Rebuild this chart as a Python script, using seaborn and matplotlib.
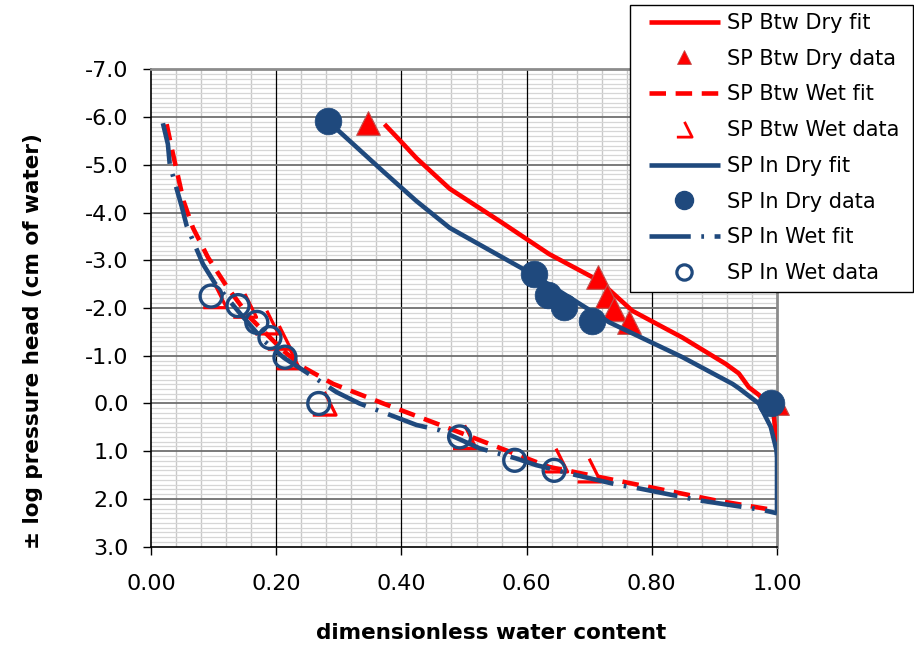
import numpy as np
import pandas as pd
import matplotlib
matplotlib.use("Agg")
import matplotlib.pyplot as plt
from matplotlib.path import Path
from matplotlib.lines import Line2D
from matplotlib.patches import Rectangle
from matplotlib.ticker import MultipleLocator, FixedLocator, FormatStrFormatter
import seaborn as sns

# ---- fitted retention curves ----
btw_dry_fit_x = [0.373, 0.397, 0.424, 0.477, 0.557, 0.636, 0.716, 0.769, 0.849, 0.918, 0.939, 0.955, 0.971, 0.987, 0.995, 1.0]
btw_dry_fit_y = [-5.85, -5.52, -5.14, -4.50, -3.82, -3.13, -2.57, -1.94, -1.38, -0.83, -0.63, -0.34, -0.18, 0.05, 0.26, 0.97]

in_dry_fit_x = [0.283, 0.371, 0.424, 0.477, 0.609, 0.732, 0.849, 0.929, 0.939, 0.971, 0.990, 0.999, 1.0, 1.0]
in_dry_fit_y = [-5.91, -4.86, -4.24, -3.68, -2.71, -1.70, -0.97, -0.41, -0.32, 0.0, 0.49, 0.97, 1.12, 2.30]

btw_wet_fit_x = [0.025, 0.033, 0.052, 0.067, 0.091, 0.121, 0.158, 0.211, 0.243, 0.291, 0.371, 0.472, 0.636, 0.796, 0.902, 0.998]
btw_wet_fit_y = [-5.85, -5.35, -4.24, -3.68, -3.06, -2.45, -1.80, -1.11, -0.76, -0.41, 0.0, 0.50, 1.33, 1.75, 2.03, 2.24]

in_wet_fit_x = [0.019, 0.027, 0.030, 0.049, 0.057, 0.083, 0.102, 0.142, 0.179, 0.213, 0.245, 0.296, 0.333,
                0.392, 0.424, 0.461, 0.525, 0.583, 0.615, 0.679, 0.748, 0.780, 0.876, 0.977, 1.0]
in_wet_fit_y = [-5.87, -5.43, -5.00, -4.13, -3.72, -2.92, -2.52, -1.89, -1.33, -0.95, -0.68, -0.24, 0.0,
                0.29, 0.45, 0.56, 0.94, 1.15, 1.29, 1.50, 1.71, 1.78, 2.03, 2.23, 2.30]

# ---- measured points ----
btw_dry_x = [0.347, 0.714, 0.728, 0.740, 0.764, 1.0]
btw_dry_y = [-5.87, -2.64, -2.25, -1.98, -1.70, 0.0]

btw_wet_x = [0.102, 0.150, 0.185, 0.205, 0.219, 0.277, 0.501, 0.647, 0.700]
btw_wet_y = [-2.25, -2.05, -1.70, -1.38, -0.97, 0.0, 0.70, 1.19, 1.40]

in_dry_x = [0.283, 0.612, 0.634, 0.660, 0.705, 0.990]
in_dry_y = [-5.91, -2.71, -2.28, -2.03, -1.73, 0.0]

in_wet_x = [0.096, 0.139, 0.169, 0.190, 0.214, 0.268, 0.493, 0.581, 0.644]
in_wet_y = [-2.25, -2.05, -1.70, -1.38, -0.97, 0.0, 0.70, 1.19, 1.40]

labels = ["SP Btw Dry fit", "SP Btw Dry data", "SP Btw Wet fit", "SP Btw Wet data",
          "SP In Dry fit", "SP In Dry data", "SP In Wet fit", "SP In Wet data"]

x_ticks = [0.0, 0.2, 0.4, 0.6, 0.8, 1.0]
y_ticks = [-7, -6, -5, -4, -3, -2, -1, 0, 1, 2, 3]

RED = "#FF0000"
BLUE = "#1F497D"
LW = 3.3

sns.set_theme(style="white")
plt.rcParams["font.family"] = ["DejaVu Sans"]
plt.rcParams["axes.unicode_minus"] = False
plt.rcParams["text.color"] = "black"
plt.rcParams["axes.labelcolor"] = "black"
plt.rcParams["xtick.color"] = "black"
plt.rcParams["ytick.color"] = "black"

fig = plt.figure(figsize=(9.14, 6.52), dpi=100)
ax = fig.add_axes([151 / 914, 1 - 546.7 / 652, (777 - 151) / 914, (546.7 - 69.3) / 652])

# open two-sided triangle used for the wet "Btw" points
wet_marker = Path([(0, 1), (1, -1), (-1, -1)], [Path.MOVETO, Path.LINETO, Path.LINETO])
in_wet_style = (0, (9.0, 2.3, 0.6, 2.3))
btw_wet_style = (0, (3.6, 2.1))

def frame(xs, ys):
    return pd.DataFrame({"x": xs, "y": ys})

def fit_line(xs, ys, color, z, style="-"):
    sns.lineplot(data=frame(xs, ys), x="x", y="y", sort=False, estimator=None,
                 color=color, linewidth=LW, ax=ax, zorder=z)
    line = ax.lines[-1]
    line.set_linestyle(style)
    line.set_solid_capstyle("butt")
    return line

fit_line(btw_dry_fit_x, btw_dry_fit_y, RED, 3)
sns.scatterplot(data=frame(btw_dry_x, btw_dry_y), x="x", y="y", marker="^", s=290,
                color=RED, edgecolor="#C0504D", linewidth=0.8, ax=ax, zorder=4, clip_on=False)
fit_line(btw_wet_fit_x, btw_wet_fit_y, RED, 5, btw_wet_style)
sns.scatterplot(data=frame(btw_wet_x, btw_wet_y), x="x", y="y", marker=wet_marker, s=280,
                facecolor="none", edgecolor=RED, linewidth=2.3, ax=ax, zorder=6, clip_on=False)
fit_line(in_dry_fit_x, in_dry_fit_y, BLUE, 7)
sns.scatterplot(data=frame(in_dry_x, in_dry_y), x="x", y="y", marker="o", s=370,
                color=BLUE, edgecolor=BLUE, linewidth=0.5, ax=ax, zorder=8, clip_on=False)
fit_line(in_wet_fit_x, in_wet_fit_y, BLUE, 9, in_wet_style)
sns.scatterplot(data=frame(in_wet_x, in_wet_y), x="x", y="y", marker="o", s=250,
                facecolor="none", edgecolor=BLUE, linewidth=2.4, ax=ax, zorder=10, clip_on=False)

# axes
ax.set_xlim(0, 1)
ax.set_ylim(3, -7)
ax.xaxis.set_major_locator(FixedLocator(x_ticks))
ax.yaxis.set_major_locator(FixedLocator(y_ticks))
ax.xaxis.set_major_formatter(FormatStrFormatter("%.2f"))
ax.yaxis.set_major_formatter(FormatStrFormatter("%.1f"))
ax.xaxis.set_minor_locator(MultipleLocator(0.04))
ax.yaxis.set_minor_locator(MultipleLocator(0.1))

ax.grid(False)
for v in np.arange(0.04, 1.0, 0.04):
    if abs(v / 0.2 - round(v / 0.2)) > 1e-6:
        ax.axvline(v, color="#C8C8C8", lw=1.0, zorder=0.5)
for h in np.arange(-6.9, 3.0, 0.1):
    if abs(h - round(h)) > 1e-6:
        ax.axhline(h, color="#D6D6D6", lw=0.9, zorder=0.5)
for v in x_ticks[1:-1]:
    ax.axvline(v, color="black", lw=0.9, zorder=1)
for h in y_ticks[1:-1]:
    ax.axhline(h, color="#707070", lw=1.3, zorder=1)

ax.tick_params(axis="both", which="major", direction="out", length=6, width=1,
               color="black", labelcolor="black", labelsize=16, bottom=True, left=True)
ax.tick_params(axis="x", pad=14)
ax.tick_params(axis="y", pad=10)
ax.tick_params(which="minor", length=0)

for side in ("left", "bottom"):
    ax.spines[side].set_color("black")
    ax.spines[side].set_linewidth(1.2)
for side in ("right", "top"):
    ax.spines[side].set_color("#8C8C8C")
    ax.spines[side].set_linewidth(2)

ax.set_xlabel("dimensionless water content", fontsize=15.5, fontweight="bold", color="black")
ax.set_ylabel("± log pressure head (cm of water)", fontsize=15.5, fontweight="bold", color="black")
ax.xaxis.set_label_coords(0.543, -0.160)
ax.yaxis.set_label_coords(-0.172, 0.431)

# legend box and entries
fig.patches.append(Rectangle((630 / 914, 1 - 292 / 652), 283 / 914, 287 / 652,
                             transform=fig.transFigure, facecolor="white",
                             edgecolor="black", linewidth=1.0, zorder=5))
handles = [
    Line2D([], [], color=RED, lw=LW, solid_capstyle="butt"),
    Line2D([], [], color=RED, marker="^", ls="none", markersize=10, markeredgecolor="#C0504D", markeredgewidth=0.6),
    Line2D([], [], color=RED, lw=LW, ls=btw_wet_style),
    Line2D([], [], color=RED, marker=wet_marker, ls="none", markersize=11, markerfacecolor="none", markeredgewidth=2.0),
    Line2D([], [], color=BLUE, lw=LW, solid_capstyle="butt"),
    Line2D([], [], color=BLUE, marker="o", ls="none", markersize=13),
    Line2D([], [], color=BLUE, lw=LW, ls=in_wet_style),
    Line2D([], [], color=BLUE, marker="o", ls="none", markersize=11, markerfacecolor="none", markeredgewidth=2.3),
]
leg = fig.legend(handles, labels, loc="upper left", bbox_to_anchor=(649 / 914, 1 - 13 / 652),
                 bbox_transform=fig.transFigure, fontsize=15, frameon=False,
                 handlelength=3.4, handletextpad=0.33, labelspacing=0.755, borderpad=0,
                 borderaxespad=0)
leg.set_zorder(6)
for t in leg.get_texts():
    t.set_color("black")

fig.savefig("out.png", dpi=100)
